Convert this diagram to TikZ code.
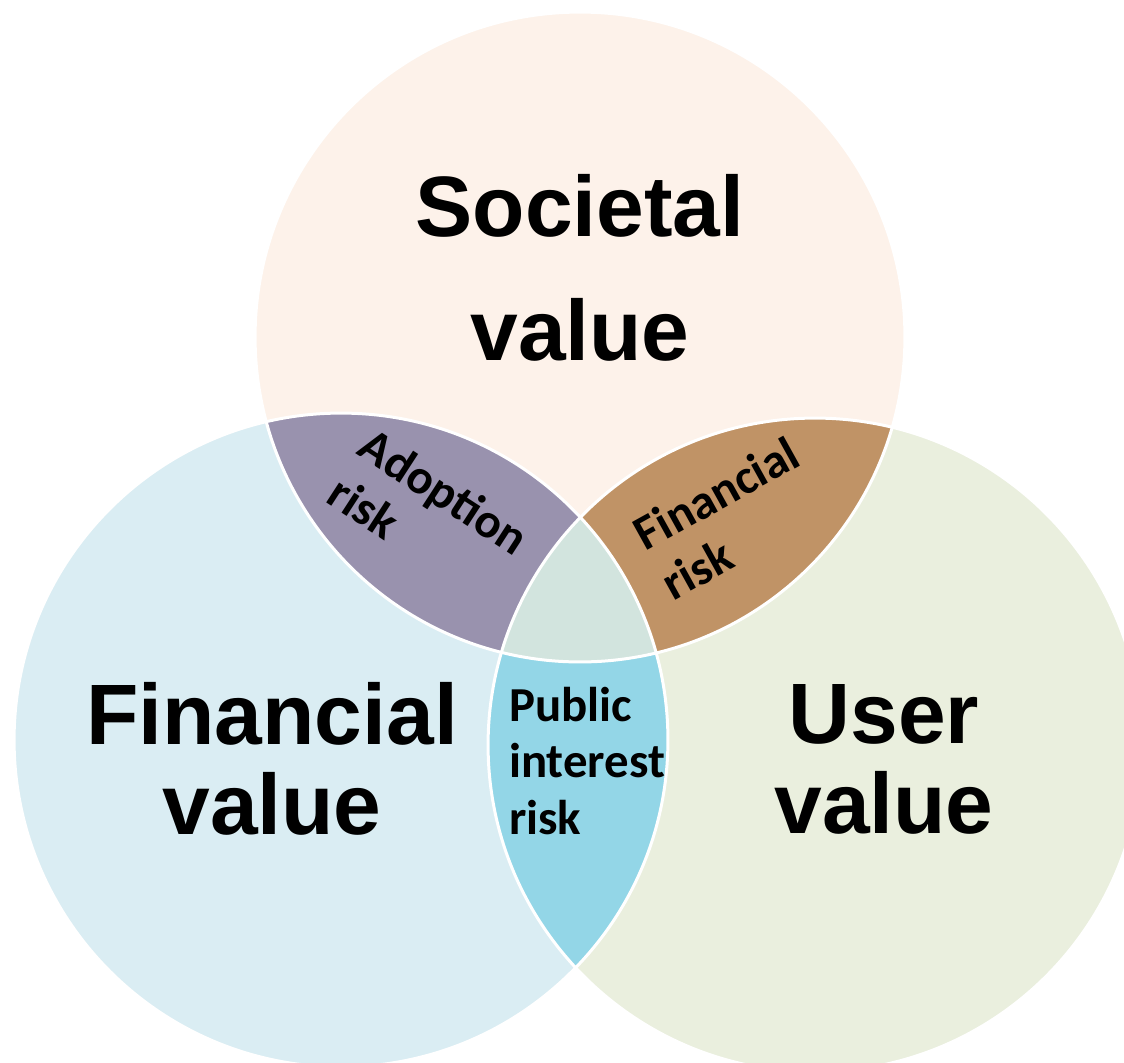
\documentclass[tikz,border=0pt]{standalone}
\usepackage{fontspec}
\setmainfont{Liberation Sans}
\newfontfamily\riskfont{Carlito}
\definecolor{socpink}{HTML}{FDF2EA}
\definecolor{finblue}{HTML}{DAEDF3}
\definecolor{usrgreen}{HTML}{EAEFDE}
\definecolor{adoptlav}{HTML}{9992AE}
\definecolor{finbrown}{HTML}{C09366}
\definecolor{pubblue}{HTML}{93D6E7}
\definecolor{coremint}{HTML}{D2E4DE}

\tikzset{
  valuetag/.style={text=black, align=center, inner sep=0pt},
  risktag/.style={text=black, align=left, inner sep=0pt,
    font=\riskfont\fontsize{27.8}{32.4}\selectfont\bfseries},
  ring/.style={draw=white, line width=0.06cm}
}

\begin{document}
\begin{tikzpicture}[x=0.02cm, y=-0.02cm]

% Canvas (pixel grid of the original)
\useasboundingbox (0,0) rectangle (1124,1062);
\fill[white] (0,0) rectangle (1124,1062);

% Circle centres
\coordinate (soc) at (580,337);
\coordinate (fin) at (341,740);
\coordinate (usr) at (815,745);

% ================================================================
% Base circles
% ================================================================
\fill[finblue]  (fin) circle (6.54cm);
\fill[usrgreen] (usr) circle (6.54cm);
\fill[socpink]  (soc) circle (6.5cm);

% ================================================================
% Overlaps
% ================================================================
% Societal + Financial
\begin{scope}
  \clip (soc) circle (6.5cm);
  \fill[adoptlav] (fin) circle (6.54cm);
\end{scope}
% Societal + User
\begin{scope}
  \clip (soc) circle (6.5cm);
  \fill[finbrown] (usr) circle (6.54cm);
\end{scope}
% Financial + User
\begin{scope}
  \clip (fin) circle (6.54cm);
  \fill[pubblue] (usr) circle (6.54cm);
\end{scope}
% all three
\begin{scope}
  \clip (soc) circle (6.5cm);
  \clip (fin) circle (6.54cm);
  \fill[coremint] (usr) circle (6.54cm);
\end{scope}

% White rims
\draw[ring] (fin) circle (6.54cm);
\draw[ring] (usr) circle (6.54cm);
\draw[ring] (soc) circle (6.5cm);

% ================================================================
% Labels
% ================================================================
\node[valuetag, font=\fontsize{48.8}{70.6}\selectfont\bfseries] (soc-lbl)
  at (580,268) {Societal\\value};
\node[valuetag, font=\fontsize{48.8}{51.2}\selectfont\bfseries] (fin-lbl)
  at (272,759) {Financial\\value};
\node[valuetag, font=\fontsize{48.8}{51.2}\selectfont\bfseries] (usr-lbl)
  at (884,759) {User\\value};

\node[risktag, rotate=-33] (adopt-lbl) at (429,515) {Adoption\\risk};
\node[risktag, rotate=29] (finrisk-lbl) at (730,518) {Financial\\risk};
\node[risktag] (pub-lbl) at (587,761) {Public\\interest\\risk};

\end{tikzpicture}
\end{document}
